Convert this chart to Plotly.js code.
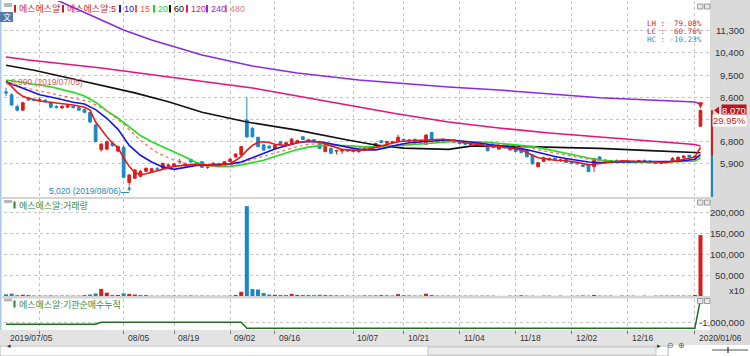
<!DOCTYPE html>
<html><head><meta charset="utf-8">
<script src="https://cdn.plot.ly/plotly-3.0.1.min.js"></script>
<style>html,body{margin:0;padding:0;background:#fff;overflow:hidden}#chart{width:750px;height:356px}</style>
</head><body><div id="chart"></div>
<script>
// ---------------- DATA ----------------
const openP = [8820,8700,8220,8080,8560,8520,8480,8480,8400,8230,
8170,8200,8240,8180,8100,7980,7480,6480,6500,6740,
6420,6570,5140,5320,5400,5600,5580,5700,5720,5800,
5800,5980,5820,6080,5950,5990,5760,5840,5900,5880,
6000,6180,6260,7680,7340,6980,6670,6620,6520,6800,
6680,6700,6780,7000,6890,6880,6730,6400,6530,6420,
6420,6430,6460,6400,6450,6500,6600,6840,6740,6760,
6800,6900,6880,6900,6800,6700,7170,6820,6900,6820,
6870,6800,6760,6680,6760,6730,6630,6600,6500,6600,
6580,6560,6530,6460,6260,5790,6000,6060,6130,6040,
6080,6000,5960,5860,5860,5790,6180,6050,6000,6040,
5990,6030,6000,5980,6040,6020,5960,5920,5960,5990,
6060,6150,6250,6180,7430];
const highP = [8990,8760,8300,8420,8620,8560,8600,8520,8420,8280,
8280,8300,8260,8230,8150,8000,7500,6750,6850,6780,
6650,6650,5480,5700,5650,5760,5740,5780,5950,5900,
5950,6100,5940,6120,5980,6000,5880,5960,5950,6020,
6150,6320,6620,8600,7400,7000,6700,6650,6700,6830,
6800,6950,6880,7020,6900,6900,6760,6700,6560,6470,
6480,6500,6490,6480,6560,6640,6760,6860,6840,6830,
7080,6920,6900,6920,6880,7100,7200,6920,6920,6900,
6900,6820,6780,6780,6780,6760,6660,6640,6660,6620,
6600,6580,6550,6480,6280,5980,6200,6160,6150,6120,
6100,6020,5980,5880,5880,6140,6220,6100,6060,6080,
6040,6060,6040,6060,6080,6040,5990,5990,6010,6180,
6200,6260,6270,6240,8070];
const lowP = [8650,8250,8020,8050,8450,8440,8400,8380,8150,8150,
8130,8180,8150,8050,7950,7550,6780,6400,6450,6600,
6380,5340,5020,5300,5350,5560,5560,5640,5700,5750,
5780,5940,5800,5950,5880,5740,5700,5800,5780,5850,
5980,6150,6240,6950,6980,6580,6440,6520,6500,6680,
6650,6680,6760,6870,6780,6780,6500,6380,6300,6280,
6300,6380,6380,6350,6420,6480,6580,6740,6720,6740,
6780,6820,6800,6780,6780,6680,6880,6800,6800,6780,
6760,6700,6660,6660,6600,6580,6400,6540,6480,6530,
6440,6380,6330,6170,5880,5750,5980,6040,6040,5980,
5950,5900,5880,5780,5570,5580,6060,6000,5960,5990,
5960,5980,5960,5950,6000,5920,5900,5900,5940,5980,
6040,6120,6150,6150,7400];
const closeP = [8780,8290,8080,8380,8490,8470,8500,8420,8200,8180,
8230,8260,8180,8080,7990,7600,6800,6700,6800,6640,
6600,5360,5450,5650,5600,5720,5700,5690,5920,5860,
5900,6000,5900,5980,5900,5760,5800,5930,5820,5990,
6090,6300,6600,7000,7000,6600,6460,6540,6650,6700,
6760,6900,6840,6890,6800,6800,6530,6670,6330,6440,
6460,6480,6400,6450,6530,6600,6730,6760,6800,6800,
6980,6840,6820,6800,6850,7070,6900,6890,6820,6880,
6780,6720,6700,6740,6630,6600,6440,6570,6630,6560,
6460,6400,6360,6190,5900,5950,6150,6120,6060,6060,
5960,5920,5900,5800,5590,6120,6080,6020,6040,6000,
6030,6000,5980,6040,6020,5940,5920,5960,5990,6120,
6170,6220,6180,6210,8070];
// volume (axis unit, x10 shares)
const volume = [4000,5500,2000,3000,2500,1200,1000,1000,1500,1000,
1000,1000,1000,1000,2500,3500,6000,17000,8000,2500,
2500,6500,5000,3500,2000,2000,800,800,1000,1000,
1000,1000,1000,1500,1000,1000,800,800,800,800,
1000,2500,10000,214000,16500,15500,7000,3500,3000,2500,
2000,5000,2500,2500,2500,2000,3000,2000,2000,1500,
1200,1000,1000,1000,1500,1200,1500,2500,1500,1200,
4500,2000,1500,1200,1000,5500,2500,1000,1000,1000,
1000,1000,1000,1000,1000,1000,1000,1000,300,300,
1000,1000,2000,1000,1000,300,1000,1000,300,1000,
300,1000,1000,1500,1000,2500,1000,1000,1000,300,
1000,1000,1000,300,1000,300,1000,1000,1000,1000,
1000,1000,1000,2500,145000];
// institutional net buying, cumulative
const instCum = [-1032000,-1032000,-1032000,-1032000,-1032000,-1032000,-1032000,-1032000,-1032000,-1032000,
-1032000,-1032000,-1032000,-1032000,-1032000,-1032000,-1032000,-992000,-992000,-992000,
-992000,-992000,-992000,-992000,-992000,-992000,-992000,-992000,-992000,-992000,
-992000,-992000,-992000,-992000,-992000,-992000,-992000,-992000,-992000,-992000,
-992000,-992000,-992000,-1112000,-1112000,-1112000,-1112000,-1112000,-1112000,-1112000,
-1112000,-1112000,-1112000,-1112000,-1112000,-1112000,-1112000,-1112000,-1112000,-1112000,
-1112000,-1112000,-1112000,-1112000,-1112000,-1112000,-1112000,-1112000,-1112000,-1112000,
-1112000,-1112000,-1112000,-1112000,-1112000,-1112000,-1112000,-1112000,-1112000,-1112000,
-1112000,-1112000,-1112000,-1112000,-1112000,-1112000,-1112000,-1112000,-1112000,-1112000,
-1112000,-1112000,-1112000,-1112000,-1112000,-1112000,-1112000,-1112000,-1112000,-1112000,
-1112000,-1112000,-1112000,-1112000,-1112000,-1112000,-1112000,-1112000,-1112000,-1112000,
-1112000,-1112000,-1112000,-1112000,-1112000,-1112000,-1112000,-1112000,-1112000,-1112000,
-1112000,-1112000,-1112000,-1112000,-530000];

// moving averages (index, value)
const ma5X = [0,1,2,3,4,6,8,10,12,14,15,16,17,18,19,20,21,22,23,24,25,26,28,30,32,34,36,38,40,41,42,43,44,45,46,47,48,50,52,54,56,58,60,62,64,66,68,70,72,74,76,78,80,82,84,86,88,90,92,94,95,96,98,100,102,104,105,106,108,110,112,114,116,118,120,122,123,124];
const ma5Y = [9270,9050,8800,8640,8560,8450,8400,8340,8290,8200,8080,7600,7300,7000,6750,6550,6150,5800,5550,5460,5500,5560,5700,5800,5850,5880,5860,5840,5920,6040,6200,6450,6650,6780,6800,6770,6700,6640,6760,6840,6780,6620,6490,6450,6470,6570,6680,6800,6840,6860,6880,6900,6850,6750,6700,6620,6600,6530,6470,6250,6150,6120,6050,6030,5970,5860,5880,5920,5970,6030,6010,6000,5980,5960,6040,6140,6180,6570];
const ma10X = [0,3,6,9,12,14,16,18,20,22,24,26,28,30,32,34,36,38,40,42,44,46,48,50,52,54,56,58,60,62,64,66,68,70,72,74,76,78,80,82,84,86,88,90,92,94,96,98,100,102,104,106,108,110,112,114,116,118,120,122,123,124];
const ma10Y = [9230,8950,8700,8560,8400,8330,8100,7750,7300,6650,6250,5980,5780,5680,5760,5840,5850,5860,5900,5980,6150,6350,6500,6640,6760,6810,6800,6720,6610,6530,6470,6470,6560,6680,6760,6800,6840,6860,6860,6820,6760,6700,6640,6590,6520,6420,6300,6200,6120,6060,5980,5960,5960,5980,5990,6000,6000,5980,6010,6060,6090,6280];
const ma15X = [0,4,8,12,15,18,21,24,27,30,33,36,39,42,45,48,51,54,57,60,63,66,69,72,75,78,81,84,87,90,93,96,99,102,105,108,111,114,117,120,123,124];
const ma15Y = [9150,8950,8750,8550,8420,8050,7500,6850,6350,6050,5870,5800,5830,5950,6150,6350,6540,6700,6720,6620,6570,6540,6600,6700,6780,6820,6830,6790,6730,6660,6580,6430,6300,6160,6050,5990,5980,5990,5990,6010,6060,6200];
const ma20X = [0,4,8,12,14,16,18,20,22,24,26,28,30,32,34,36,38,40,42,44,46,48,50,52,54,56,58,60,62,64,66,68,70,72,74,76,78,80,82,84,86,88,90,92,94,96,98,100,102,104,106,108,110,112,114,116,118,120,122,123,124];
const ma20Y = [9300,9150,9030,8800,8650,8400,8050,7750,7400,7050,6800,6600,6380,6180,5960,5830,5790,5800,5860,5950,6050,6200,6350,6480,6580,6640,6660,6650,6620,6590,6580,6600,6640,6680,6720,6760,6790,6810,6810,6800,6780,6740,6700,6660,6600,6520,6420,6320,6220,6140,6060,6010,5980,5960,5960,5970,5980,5990,6010,6020,6130];
const ma60X = [0,5,10,17,23,29,35,43,52,61,66,71,79,83,90,100,106,115,121,124];
const ma60Y = [9900,9700,9440,9100,8780,8420,7990,7600,7270,6870,6670,6540,6490,6620,6620,6560,6530,6440,6390,6350];
const ma120X = [0,4,17,35,44,52,61,70,79,88,97,106,115,123,124];
const ma120Y = [10234,10112,9788,9236,8977,8653,8288,7923,7599,7356,7153,6991,6829,6687,6626];
const ma240X = [8,16,21,26,35,44,52,63,70,79,88,97,106,115,123,124];
const ma240Y = [12650,11855,11328,10923,10315,9869,9585,9301,9180,9018,8896,8734,8584,8491,8409,8328];

const tickIdx = [0,21,30,40,48,62,71,81,91,101,111,123];
const tickLabels = ['2019/07/05','08/05','08/19','09/02','09/16','10/07','10/21','11/04','11/18','12/02','12/16','2020/01/06'];
const gridIdx = [6,21,30,40,48,62,71,81,91,101,111,123];
const priceTicks = [5900,6800,7700,8600,9500,10400,11300];
const priceTickText = ['5,900','6,800','','8,600','9,500','10,400','11,300'];
const volTicks = [50000,100000,150000,200000];
const volTickText = ['50,000','100,000','150,000','200,000'];
const instTicks = [-1000000];
const instTickText = ['-1,000,000'];

const legendNames = ['에스에스알','에스에스알:5','10','15','20','60','120','240','480'];
const lastPrice = 8070, prevClose = 6210;
const periodHigh = 8990, periodLow = 5020;
const highLabel = '8,990 (2019/07/05)', lowLabel = '5,020 (2019/08/06)';
const statLabels = ['LH :','LC :','HC :'];
const statValues = ['79.08%','60.76%','-10.23%'];
const changeText = '29.95%';
const volPanelTitle = '에스에스알:거래량';
const instPanelTitle = '에스에스알:기관순매수누적';

// ---------------- STYLE / LAYOUT ----------------
const W=750,H=356;
const px=x=>x/W, py=y=>1-y/H;
const UP='#d3201f', DN='#1a87c6';
const legendColors = ['#d01c1c','#d01c1c','#1414e6','#ff5a3c','#19d919','#111111','#e6137d','#8a2be2','#f08080'];
const legendTextX = [17,65,122,138,156,172,189,209,228];
const FONT = 'Liberation Sans, "Noto Sans CJK KR", sans-serif';
const idx = closeP.map((_,i)=>i);
const volColors = closeP.map((c,i)=> c>=openP[i]?UP:DN);

const XR=[-0.36,125.7];
const xDom=[px(4),px(710)];
const pDom=[py(197),py(1)], vDom=[py(296),py(199)], iDom=[py(330),py(298.5)];
const pRange=[4559,12503], vRange=[0,230952], iRange=[-1146000,-516000];

function maTrace(x,y,color,dash,width){
  return {type:'scatter',mode:'lines',x:x,y:y,xaxis:'x',yaxis:'y',hoverinfo:'skip',
    line:{color:color,width:width||1.6,dash:dash||'solid'}};
}
const traces = [
  maTrace(ma240X,ma240Y,'#8a2be2'),
  maTrace(ma120X,ma120Y,'#e6137d'),
  maTrace(ma60X,ma60Y,'#111111'),
  maTrace(ma20X,ma20Y,'#22dd22'),
  maTrace(ma15X,ma15Y,'#ff6a4a','dot',1.2),
  {type:'candlestick',x:idx,open:openP,high:highP,low:lowP,close:closeP,xaxis:'x',yaxis:'y',
   increasing:{line:{color:UP,width:1},fillcolor:UP},decreasing:{line:{color:DN,width:1},fillcolor:DN},
   whiskerwidth:0,hoverinfo:'skip'},
  maTrace(ma10X,ma10Y,'#1414e6'),
  maTrace(ma5X,ma5Y,'#e8191b'),
  {type:'bar',x:idx,y:volume,xaxis:'x2',yaxis:'y2',width:0.72,marker:{color:volColors,line:{width:0}},hoverinfo:'skip'},
  {type:'scatter',mode:'lines',x:idx,y:instCum,xaxis:'x3',yaxis:'y3',line:{color:'#1f6f1f',width:1.5},hoverinfo:'skip'}
];

const gridStyle = {showgrid:true,gridcolor:'#c4c4c4',griddash:'dot',gridwidth:1,zeroline:false,showline:false};
const xCommon = Object.assign({range:XR,domain:xDom,tickmode:'array',tickvals:gridIdx,showticklabels:false,ticks:'',fixedrange:true},gridStyle);

const shapes = [];
const ann = [];
// panels background
shapes.push({type:'rect',xref:'paper',yref:'paper',x0:px(710),x1:1,y0:py(345),y1:1,fillcolor:'#dadada',line:{width:0},layer:'below'});
shapes.push({type:'rect',xref:'paper',yref:'paper',x0:0,x1:px(710),y0:py(345),y1:py(330),fillcolor:'#e3e3e3',line:{width:0},layer:'below'});
shapes.push({type:'rect',xref:'paper',yref:'paper',x0:px(2),x1:px(710),y0:py(199),y1:py(197),fillcolor:'#d4d4d4',line:{width:0},layer:'below'});
shapes.push({type:'rect',xref:'paper',yref:'paper',x0:px(2),x1:px(710),y0:py(298.5),y1:py(296),fillcolor:'#d4d4d4',line:{width:0},layer:'below'});
shapes.push({type:'rect',xref:'paper',yref:'paper',x0:0,x1:px(1.5),y0:py(330),y1:1,fillcolor:'#a8c8ec',line:{width:0},layer:'below'});
// scroll bar row
shapes.push({type:'rect',xref:'paper',yref:'paper',x0:px(0),x1:px(668),y0:py(356),y1:py(346),fillcolor:'#ffffff',line:{color:'#b4b4b4',width:1}});
shapes.push({type:'rect',xref:'paper',yref:'paper',x0:px(428),x1:px(656),y0:py(355),y1:py(347),fillcolor:'#ececec',line:{color:'#c4c4c4',width:1}});
// small panel icons
[[4,12,3,7],[4,12,200,203],[4,12,298.5,301.5]].forEach(r=>shapes.push({type:'rect',xref:'paper',yref:'paper',x0:px(r[0]),x1:px(r[1]),y0:py(r[3]),y1:py(r[2]),fillcolor:'#b8b8b8',line:{width:0}}));
[[4,9],[200,205],[298.5,303.5]].forEach(r=>{
  shapes.push({type:'rect',xref:'paper',yref:'paper',x0:px(697.5),x1:px(703),y0:py(r[1]),y1:py(r[0]),fillcolor:'#e8e8e8',line:{color:'#9a9a9a',width:1}});
  shapes.push({type:'rect',xref:'paper',yref:'paper',x0:px(704.5),x1:px(710),y0:py(r[1]),y1:py(r[0]),fillcolor:'#e8e8e8',line:{color:'#9a9a9a',width:1}});
});
shapes.push({type:'rect',xref:'paper',yref:'paper',x0:0,x1:px(13),y0:py(22),y1:py(12),fillcolor:'#5479a6',line:{width:0}});
ann.push({xref:'paper',yref:'paper',x:px(6.5),y:py(17),text:'文',showarrow:false,font:{family:'"Noto Sans CJK KR"',size:8,color:'#ffffff'},xanchor:'center',yanchor:'middle'});
// legend markers + text
legendNames.forEach((n,k)=>{
  shapes.push({type:'rect',xref:'paper',yref:'paper',x0:px(legendTextX[k]-3),x1:px(legendTextX[k]-1),y0:py(12.5),y1:py(5),fillcolor:legendColors[k],line:{width:0}});
  ann.push({xref:'paper',yref:'paper',x:px(legendTextX[k]),y:py(9),text:n,showarrow:false,xanchor:'left',yanchor:'middle',
    font:{family:FONT,size:9,color:legendColors[k]}});
});
// panel titles
[[volPanelTitle,205],[instPanelTitle,304]].forEach(t=>{
  shapes.push({type:'rect',xref:'paper',yref:'paper',x0:px(13.5),x1:px(15.5),y0:py(t[1]+3.5),y1:py(t[1]-3.5),fillcolor:'#2f7f2f',line:{width:0}});
  ann.push({xref:'paper',yref:'paper',x:px(17),y:py(t[1]),text:t[0],showarrow:false,xanchor:'left',yanchor:'middle',font:{family:FONT,size:9,color:'#3a8a3a'}});
});
// y tick labels (right aligned)
const TF = {family:FONT,size:9.5,color:'#333'};
priceTicks.forEach((v,k)=>{ if(priceTickText[k]) ann.push({xref:'paper',yref:'y',x:px(746),y:v,text:priceTickText[k],showarrow:false,xanchor:'right',yanchor:'middle',font:TF}); });
volTicks.forEach((v,k)=>ann.push({xref:'paper',yref:'y2',x:px(746),y:v,text:volTickText[k],showarrow:false,xanchor:'right',yanchor:'middle',font:TF}));
ann.push({xref:'paper',yref:'paper',x:px(746),y:py(290.5),text:'x10',showarrow:false,xanchor:'right',yanchor:'middle',font:TF});
instTicks.forEach((v,k)=>ann.push({xref:'paper',yref:'y3',x:px(746),y:v,text:instTickText[k],showarrow:false,xanchor:'right',yanchor:'middle',font:TF}));
// x tick labels
tickIdx.forEach((v,k)=>ann.push({xref:'x3',yref:'paper',x:v,y:py(337.5),text:tickLabels[k],showarrow:false,xanchor:'left',yanchor:'middle',xshift:2,font:{family:FONT,size:8.5,color:'#333'}}));
// high / low labels
ann.push({xref:'paper',yref:'y',x:px(9),y:periodHigh,yshift:6,text:highLabel,showarrow:false,xanchor:'left',yanchor:'middle',font:{family:FONT,size:8.5,color:'#d4605a'}});
ann.push({xref:'paper',yref:'y',x:px(47),y:periodLow,yshift:-5,text:lowLabel,showarrow:false,xanchor:'left',yanchor:'middle',font:{family:FONT,size:8.5,color:'#2b88b8'}});
ann.push({xref:'x',yref:'y',x:22,y:periodLow,ax:0,ay:7,text:'',showarrow:true,arrowhead:2,arrowsize:0.8,arrowwidth:1,arrowcolor:'#2b88b8',standoff:0});
shapes.push({type:'line',xref:'paper',yref:'y',x0:px(121),x1:px(129),y0:periodLow-280,y1:periodLow-280,line:{color:'#2b88b8',width:1}});
// limit-up arrow
ann.push({xref:'x',yref:'y',x:124,y:lastPrice+80,ax:0,ay:-8,text:'',showarrow:true,arrowhead:2,arrowsize:0.8,arrowwidth:1.5,arrowcolor:'#e02020',standoff:0});
// LH/LC/HC : one monospace line each, value right-aligned by padding
const NB='\u00a0';
statLabels.forEach((s,k)=>{
  const c = k<2?'#d22a2a':'#2e95c8';
  const v = statValues[k];
  const line = s + NB.repeat(Math.max(1, 8 - v.length)) + v;
  ann.push({xref:'paper',yref:'paper',x:px(704),y:py(23.5+k*8),text:line,showarrow:false,xanchor:'right',yanchor:'middle',font:{family:'DejaVu Sans Mono',size:7.5,color:c}});
});
// right price bar + last price label
shapes.push({type:'rect',xref:'paper',yref:'y',x0:px(711),x1:px(713),y0:prevClose,y1:lastPrice,fillcolor:'#d3201f',line:{width:0}});
shapes.push({type:'rect',xref:'paper',yref:'y',x0:px(711),x1:px(713),y0:pRange[0],y1:prevClose,fillcolor:'#1a87c6',line:{width:0}});
shapes.push({type:'path',xref:'paper',yref:'y',path:`M ${px(714)},${lastPrice} L ${px(719)},${lastPrice+160} L ${px(719)},${lastPrice-160} Z`,fillcolor:'#c8141e',line:{width:0}});
ann.push({xref:'paper',yref:'y',x:px(747),y:lastPrice,text:lastPrice.toLocaleString('en-US'),showarrow:false,xanchor:'right',yanchor:'middle',bgcolor:'#c0141c',borderpad:0,font:{family:FONT,size:9.5,color:'#ffffff'}});
ann.push({xref:'paper',yref:'y',x:px(747),y:lastPrice,yshift:-10,text:changeText,showarrow:false,xanchor:'right',yanchor:'middle',bgcolor:'#ffffff',borderpad:0,font:{family:FONT,size:9.5,color:'#d02020'}});
// scrollbar glyphs
ann.push({xref:'paper',yref:'paper',x:px(5),y:py(351.5),text:'◂',showarrow:false,font:{size:7,color:'#333'}});
ann.push({xref:'paper',yref:'paper',x:px(663),y:py(351.5),text:'▸',showarrow:false,font:{size:7,color:'#333'}});
ann.push({xref:'paper',yref:'paper',x:px(676),y:py(351.5),text:'⊖',showarrow:false,font:{size:8,color:'#555'}});
ann.push({xref:'paper',yref:'paper',x:px(687),y:py(351.5),text:'⊕',showarrow:false,font:{size:8,color:'#555'}});
shapes.push({type:'line',xref:'paper',yref:'paper',x0:px(712),x1:px(748),y0:py(350),y1:py(350),line:{color:'#555',width:1}});
shapes.push({type:'line',xref:'paper',yref:'paper',x0:px(728),x1:px(728),y0:py(347),y1:py(353),line:{color:'#555',width:1.5}});

const layout = {
  width:W,height:H,margin:{l:0,r:0,t:0,b:0},paper_bgcolor:'#ffffff',plot_bgcolor:'rgba(0,0,0,0)',showlegend:false,
  xaxis:Object.assign({},xCommon,{anchor:'y',rangeslider:{visible:false}}),
  xaxis2:Object.assign({},xCommon,{anchor:'y2',matches:'x'}),
  xaxis3:Object.assign({},xCommon,{anchor:'y3',matches:'x',ticks:'outside',ticklen:3,tickcolor:'#777'}),
  yaxis:Object.assign({domain:pDom,range:pRange,side:'right',tickmode:'array',tickvals:priceTicks,showticklabels:false,ticks:'',fixedrange:true},gridStyle),
  yaxis2:Object.assign({domain:vDom,range:vRange,side:'right',tickmode:'array',tickvals:volTicks,showticklabels:false,ticks:'',fixedrange:true},gridStyle),
  yaxis3:Object.assign({domain:iDom,range:iRange,side:'right',tickmode:'array',tickvals:instTicks,showticklabels:false,ticks:'',fixedrange:true},gridStyle),
  shapes:shapes,annotations:ann
};
Plotly.newPlot('chart',traces,layout,{staticPlot:true,displayModeBar:false});
</script></body></html>
